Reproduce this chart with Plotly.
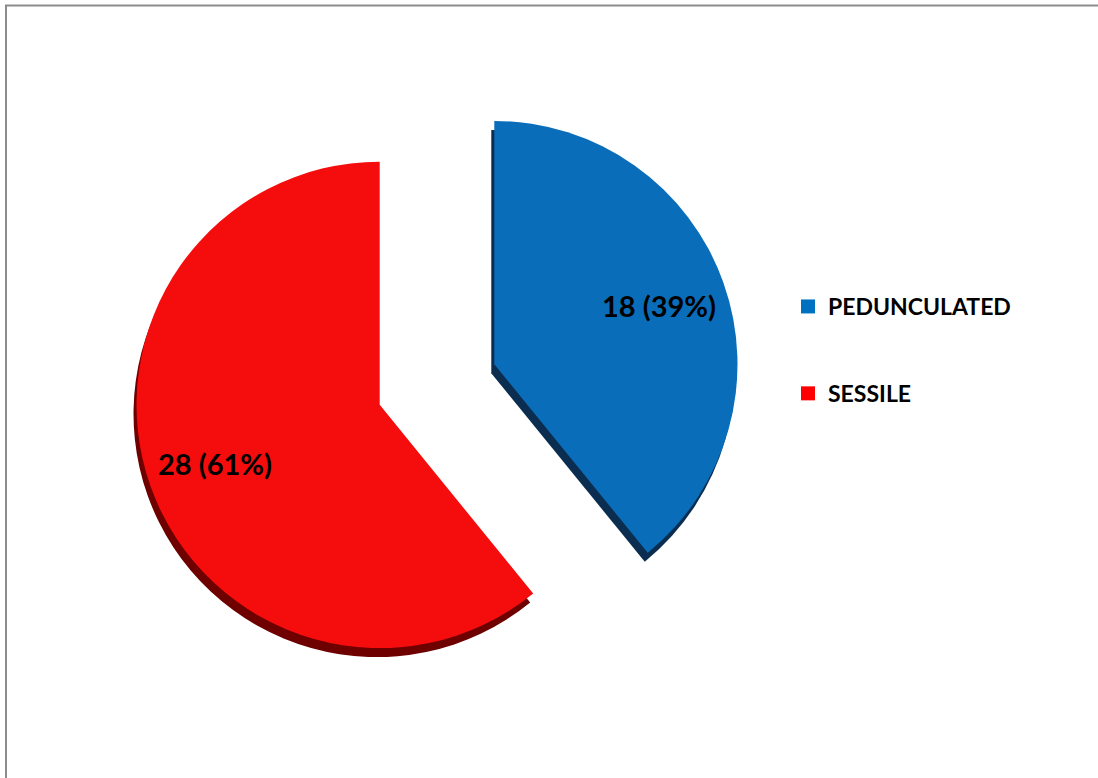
import math
import plotly.graph_objects as go

categories = ["PEDUNCULATED", "SESSILE"]
counts = [18, 28]
percent_labels = ["39%", "61%"]

face_colors = ["#0A6DBA", "#F50C0C"]
side_colors = ["#0B2E50", "#6E0000"]
legend_colors = ["#0070C0", "#FF0000"]

W, H = 1098, 778
PULL = 0.25
LABEL_R = 0.72  # label distance from slice tip, as fraction of radius


def dom(x0, x1, top, bottom):
    return dict(x=[x0 / W, x1 / W], y=[(H - bottom) / H, (H - top) / H])


main_dom = dom(133, 741, 80.5, 688.5)
shadow_dom = dom(130, 738, 89.5, 697.5)

fig = go.Figure()

# shadow / side pie (gives the 3D edge)
fig.add_trace(go.Pie(
    labels=categories, values=counts, sort=False, direction="clockwise", rotation=0,
    pull=[PULL] * len(counts), marker=dict(colors=side_colors, line=dict(width=0)),
    textinfo="none", hoverinfo="skip", showlegend=False,
    domain=shadow_dom,
))

# main pie
fig.add_trace(go.Pie(
    labels=categories, values=counts, sort=False, direction="clockwise", rotation=0,
    pull=[PULL] * len(counts), marker=dict(colors=face_colors, line=dict(width=0)),
    customdata=percent_labels,
    hovertemplate="%{label}: %{value} (%{customdata})<extra></extra>",
    textinfo="none", showlegend=False,
    domain=main_dom,
))

# data labels placed along each slice's mid-angle (computed from the values)
cx = (main_dom["x"][0] + main_dom["x"][1]) / 2 * W
cy = (1 - (main_dom["y"][0] + main_dom["y"][1]) / 2) * H
r = min((main_dom["x"][1] - main_dom["x"][0]) * W,
        (main_dom["y"][1] - main_dom["y"][0]) * H) / (2 * (1 + PULL))
total = sum(counts)
acc = 0
annotations = []
for v, p in zip(counts, percent_labels):
    mid = (acc + v / 2) / total * 2 * math.pi
    acc += v
    dx, dy = math.sin(mid), -math.cos(mid)
    px = cx + (PULL + LABEL_R) * r * dx
    py = cy + (PULL + LABEL_R) * r * dy
    annotations.append(dict(
        x=px / W, y=1 - py / H, xref="paper", yref="paper",
        text=f"{v} ({p})", showarrow=False, xanchor="center", yanchor="middle",
        font=dict(family="Lato", size=29, color="black", weight="bold"),
    ))

# legend entries
for name, col in zip(categories, legend_colors):
    fig.add_trace(go.Scatter(
        x=[None], y=[None], mode="markers", name=name, legendgroup=name,
        marker=dict(symbol="square", size=14, color=col),
    ))

fig.update_layout(
    width=W, height=H,
    margin=dict(l=0, r=0, t=0, b=0),
    paper_bgcolor="white", plot_bgcolor="white",
    xaxis=dict(visible=False), yaxis=dict(visible=False),
    showlegend=True,
    legend=dict(
        x=788 / W, xanchor="left", y=(H - 285) / H, yanchor="top",
        font=dict(family="Lato", size=23, color="black", weight="bold"),
        tracegroupgap=54, bgcolor="rgba(0,0,0,0)",
    ),
    annotations=annotations,
    shapes=[dict(type="rect", xref="paper", yref="paper",
                 x0=6 / W, x1=1.03, y0=-0.03, y1=(H - 5.5) / H,
                 line=dict(color="#8C8C8C", width=2))],
)

fig.write_html(
    "out.html",
    config={"displayModeBar": False},
    post_script="document.body.style.margin='0';document.body.style.overflow='hidden';",
)
